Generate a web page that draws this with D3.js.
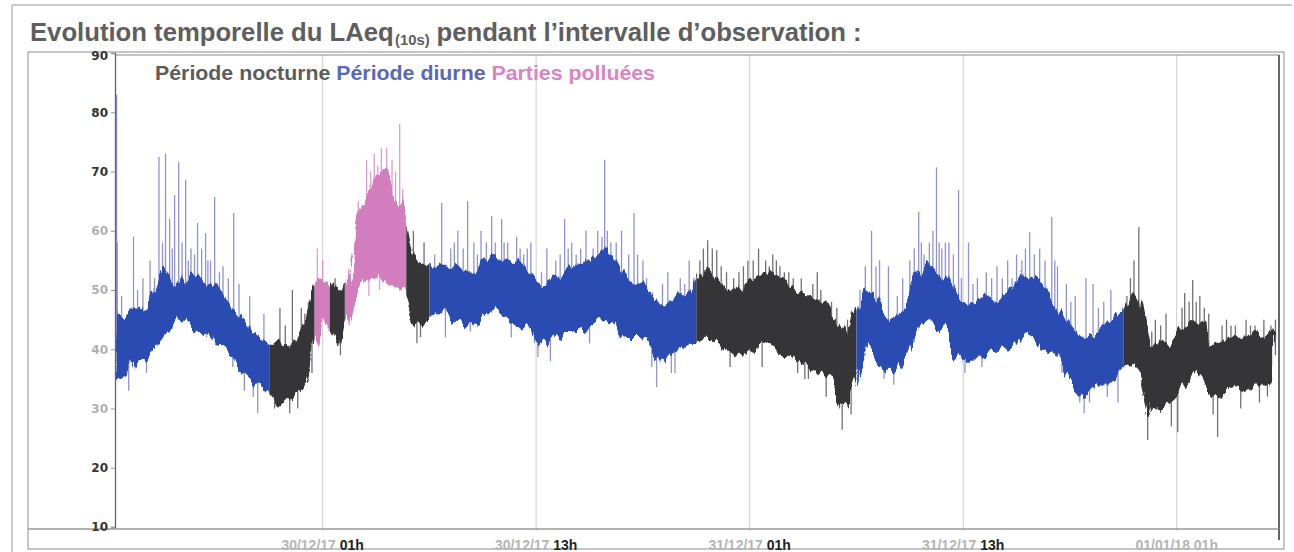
<!DOCTYPE html>
<html>
<head>
<meta charset="utf-8">
<script src="https://cdn.jsdelivr.net/npm/d3@7"></script>
<style>
  html, body { margin: 0; padding: 0; background: #fff; }
  svg { display: block; }
</style>
</head>
<body>
<svg id="chart" width="1294" height="552"></svg>
<script>
// ---- data -------------------------------------------------------------
// hours counted from 29/12/17 00:00
const titleMain = "Evolution temporelle du LAeq";
const titleSub = "(10s)";
const titleEnd = "pendant l’intervalle d’observation :";
const legendLabels = ["Période nocturne", "Période diurne", "Parties polluées"];

const yTicks = [10, 20, 30, 40, 50, 60, 70, 80, 90];
const xTickHours = [25, 37, 49, 61, 73];
const xTickDates = ["30/12/17", "30/12/17", "31/12/17", "31/12/17", "01/01/18"];
const xTickTimes = ["01h", "13h", "01h", "13h", "01h"];

const domainHours = [13.33, 78.75];
const binStart = 13.5;   // first sample, then every half hour
const binStep = 0.5;

// LAeq(10s) envelope per half hour: lower and upper edge of the dense band (dB)
const bandLow = [
  36, 35, 39, 38, 40, 42, 44, 45, 44, 43,
  43, 41, 40, 38, 36, 35, 33, 33, 31, 31,
  33, 34, 40, 46, 43, 41, 47, 50, 52, 53,
  52, 51, 50, 45, 44, 45, 46, 46, 45, 44,
  44, 46, 47, 46, 45, 44, 44, 42, 40, 42,
  43, 43, 43, 44, 45, 45, 44, 42, 42, 42,
  40, 38, 39, 40, 41, 41, 42, 42, 40, 39,
  39, 40, 41, 41, 40, 39, 39, 38, 37, 36,
  35, 32, 30, 36, 41, 39, 37, 36, 37, 41,
  44, 45, 44, 43, 40, 38, 38, 39, 40, 40,
  40, 41, 43, 42, 40, 40, 38, 35, 33, 32,
  34, 34, 34, 37, 38, 36, 29, 30, 31, 32,
  34, 36, 35, 33, 32, 33, 34, 33, 34, 34,
  35
];
const bandHigh = [
  46, 45, 47, 46, 50, 54, 52, 50, 53, 52,
  51, 50, 49, 47, 45, 43, 42, 41, 41, 40,
  42, 44, 50, 53, 50, 49, 54, 62, 66, 70,
  70, 68, 64, 56, 54, 53, 54, 53, 54, 54,
  53, 55, 56, 55, 55, 55, 53, 51, 50, 52,
  53, 54, 54, 55, 56, 57, 55, 52, 51, 51,
  49, 48, 48, 49, 49, 50, 54, 53, 50, 49,
  50, 51, 52, 53, 52, 51, 50, 49, 49, 48,
  47, 44, 42, 48, 51, 49, 46, 45, 46, 50,
  53, 54, 53, 52, 49, 47, 47, 48, 49, 48,
  49, 51, 53, 52, 50, 48, 46, 44, 42, 42,
  43, 44, 45, 47, 50, 48, 40, 41, 41, 42,
  44, 45, 44, 41, 41, 42, 42, 42, 43, 42,
  43
];

// isolated peaks and dips leaving the band: [hour, dB]
const spikes = [
  [13.42, 83], [13.45, 58], [13.7, 49], [14.1, 33], [14.37, 59], [14.6, 50], [14.9, 52],
  [15.1, 36], [15.3, 55], [15.55, 52], [15.8, 72.5], [16.0, 58],
  [16.17, 73], [16.4, 62], [16.55, 57], [16.68, 66], [16.91, 71.6], [17.1, 58], [17.3, 68.6],
  [17.45, 55], [17.6, 57], [17.8, 56], [17.97, 61.3], [18.2, 57], [18.42, 59.6], [18.55, 55],
  [18.7, 55], [18.93, 65.7], [19.2, 53], [19.4, 54], [19.7, 52], [20.0, 63], [19.95, 37],
  [20.3, 51], [20.6, 33], [20.9, 49], [21.1, 32], [21.35, 29.2], [21.7, 46],
  [22.3, 30], [22.6, 47], [22.9, 44], [23.15, 29.2], [23.3, 50], [23.6, 30], [23.8, 47],
  [24.0, 46], [24.2, 48], [24.4, 36],
  [24.7, 57], [25.0, 55], [25.7, 52], [26.0, 39], [26.5, 44], [26.8, 58], [27.0, 65], [27.2, 64],
  [27.47, 72], [27.7, 70], [27.9, 73], [28.1, 71], [28.3, 74], [28.45, 69], [28.6, 74],
  [28.75, 68], [28.9, 72], [29.1, 70], [29.33, 78], [29.5, 67], [28.2, 50], [27.6, 49],
  [30.1, 60], [30.3, 41], [30.5, 42], [30.7, 58], [30.9, 53],
  [31.3, 56], [31.69, 64.7], [31.9, 42], [32.2, 57], [32.4, 58], [32.6, 60], [32.9, 57],
  [33.15, 65], [33.3, 43], [33.5, 58], [33.7, 56], [33.9, 60], [34.2, 58], [34.5, 62.5],
  [34.7, 58], [35.06, 62], [35.2, 58], [35.4, 58], [35.6, 42], [35.9, 59], [36.1, 57], [36.3, 56],
  [36.5, 57], [36.7, 58], [36.9, 41], [37.1, 38.7], [37.3, 53], [37.6, 57], [37.8, 38],
  [38.1, 55], [38.35, 56], [38.6, 62], [38.8, 57], [39.0, 58], [39.25, 56], [39.5, 57],
  [39.8, 60], [40.0, 41], [40.2, 57], [40.46, 60], [40.7, 59], [40.85, 72], [41.0, 60],
  [41.2, 58], [41.5, 58], [41.8, 60], [42.0, 42], [42.2, 56], [42.5, 63], [42.7, 56],
  [43.0, 55], [43.2, 52], [43.5, 37], [43.77, 33.6], [44.1, 51], [44.4, 53], [44.6, 36],
  [44.8, 36], [45.1, 52], [45.35, 51], [45.6, 55], [45.85, 52],
  [46.2, 55], [46.4, 57], [46.64, 58.4], [46.9, 57], [47.15, 56.7], [47.4, 54], [47.7, 53],
  [47.9, 37], [48.1, 52], [48.4, 53], [48.65, 54], [48.9, 55], [49.2, 55], [49.5, 57],
  [49.7, 37], [49.9, 55], [50.1, 54], [50.3, 56], [50.5, 55], [50.7, 54], [50.95, 53],
  [51.2, 53], [51.45, 52], [51.7, 36], [51.9, 52], [52.1, 35], [52.3, 35], [52.55, 51],
  [52.8, 53], [53.0, 50], [53.3, 32], [53.6, 48], [53.9, 47], [54.05, 30], [54.2, 26.4],
  [54.5, 45], [54.7, 29],
  [55.2, 50], [55.5, 54], [55.85, 60], [56.1, 54], [56.3, 55], [56.55, 35], [56.8, 54],
  [57.1, 34], [57.3, 49], [57.6, 52], [58.0, 55], [58.25, 57], [58.5, 63.2], [58.65, 58],
  [58.8, 56], [59.1, 58], [59.3, 60], [59.5, 70.7], [59.65, 58], [59.8, 57], [60.0, 58],
  [60.2, 58], [60.45, 56], [60.74, 66.9], [60.9, 52], [61.1, 36], [61.3, 58], [61.55, 51],
  [61.8, 52], [62.05, 37], [62.3, 53], [62.6, 52], [62.9, 54], [63.2, 52], [63.5, 55],
  [63.75, 52], [64.0, 56], [64.3, 55], [64.5, 57], [64.74, 59.8], [65.0, 56], [65.3, 57],
  [65.6, 55], [65.98, 62.3], [66.15, 55], [66.3, 54], [66.55, 36], [66.8, 51], [67.05, 48],
  [67.3, 49], [67.55, 31], [67.8, 29.2], [67.9, 52], [68.1, 31], [68.3, 51], [68.6, 47],
  [68.9, 48], [69.1, 32], [69.3, 50], [69.5, 46], [69.7, 31],
  [70.2, 49], [70.4, 52], [70.6, 55], [70.87, 60.6], [71.1, 47], [71.37, 24.7], [71.6, 43],
  [71.8, 45], [72.1, 44], [72.4, 46], [72.7, 27], [73.06, 26], [73.3, 47], [73.45, 49.5],
  [73.7, 48], [73.9, 51.7], [74.1, 48], [74.3, 49], [74.55, 47], [74.8, 46], [75.05, 29],
  [75.3, 25.2], [75.55, 44], [75.8, 45], [76.05, 44], [76.3, 44], [76.6, 30], [76.9, 45],
  [77.15, 44], [77.4, 44], [77.65, 31], [77.9, 45], [78.1, 32], [78.3, 44], [78.55, 45]
];

// measurement periods: boundaries (hours) and the kind of each interval
const periodBounds = [13.33, 22, 24.55, 25.4, 26.25, 29.7, 31, 46, 55, 70, 78.75];
const periodKinds = ["diurne", "nocturne", "polluee", "nocturne", "polluee", "nocturne",
                     "diurne", "nocturne", "diurne", "nocturne"];

// ---- drawing ------------------------------------------------------------
const origin = new Date(2017, 11, 29, 0, 0);
const toDate = h => new Date(origin.getTime() + h * 3600e3);

const band = bandLow.map((lo, i) => ({ t: toDate(binStart + i * binStep), lo, hi: bandHigh[i] }));

const colors = {
  nocturne: { band: "#363638", spike: "#58585c" },
  diurne:   { band: "#2b4cb2", spike: "#7c80cc" },
  polluee:  { band: "#d27dbd", spike: "#d98cc6" }
};
const legendColors = ["#5c5c5c", "#5a68b8", "#d985c4"];

const svg = d3.select("#chart");
const margin = { left: 115, right: 1279, top: 55, bottom: 527 };

const x = d3.scaleTime().domain(domainHours.map(toDate)).range([margin.left, margin.right]);
const y = d3.scaleLinear().domain([10, 90]).range([margin.bottom, 53]);

// page frame and chart frame
svg.append("line").attr("x1", 12).attr("x2", 1292).attr("y1", 5).attr("y2", 5)
  .attr("stroke", "#bbb").attr("stroke-width", 1.5);
svg.append("line").attr("x1", 12).attr("x2", 12).attr("y1", 5).attr("y2", 552)
  .attr("stroke", "#bbb").attr("stroke-width", 1.5);
svg.append("rect").attr("x", 28).attr("y", 52).attr("width", 1256).attr("height", 497)
  .attr("fill", "none").attr("stroke", "#a0a0a0").attr("stroke-width", 1.2);

// title: main part, subscript and end as separate runs, then fitted to width
const titleG = svg.append("g");
const titleFont = "'Liberation Sans Narrow', 'Liberation Sans', Arial, sans-serif";
const t1 = titleG.append("text").attr("x", 0).attr("y", 41)
  .attr("font-family", titleFont).attr("font-weight", "bold").attr("font-size", 26)
  .attr("fill", "#5e5e5e").text(titleMain);
const w1 = t1.node().getComputedTextLength();
const t2 = titleG.append("text").attr("x", w1 + 1).attr("y", 45)
  .attr("font-family", titleFont).attr("font-weight", "bold").attr("font-size", 15)
  .attr("fill", "#5e5e5e").text(titleSub);
const w2 = t2.node().getComputedTextLength();
const t3 = titleG.append("text").attr("x", w1 + w2 + 8).attr("y", 41)
  .attr("font-family", titleFont).attr("font-weight", "bold").attr("font-size", 26)
  .attr("fill", "#5e5e5e").text(titleEnd);
const wTot = w1 + w2 + 8 + t3.node().getComputedTextLength();
titleG.attr("transform", `translate(30,0) scale(${832 / wTot},1)`);

// vertical grid lines at the labelled instants
svg.append("g").selectAll("line").data(xTickHours).join("line")
  .attr("x1", d => x(toDate(d))).attr("x2", d => x(toDate(d)))
  .attr("y1", margin.top).attr("y2", margin.bottom + 4)
  .attr("stroke", "#d4d4d4").attr("stroke-width", 1.2);

// clip paths, one per period; ragged-edge filter for the dense band
const defs = svg.append("defs");
periodKinds.forEach((k, i) => {
  defs.append("clipPath").attr("id", "p" + i)
    .append("rect")
    .attr("x", x(toDate(periodBounds[i])))
    .attr("width", x(toDate(periodBounds[i + 1])) - x(toDate(periodBounds[i])))
    .attr("y", 0).attr("height", 552);
});
const rough = defs.append("filter").attr("id", "rough")
  .attr("x", "-2%").attr("y", "-20%").attr("width", "104%").attr("height", "140%");
rough.append("feTurbulence").attr("type", "fractalNoise")
  .attr("baseFrequency", "0.12 0.012").attr("numOctaves", 4).attr("seed", 7).attr("result", "n");
rough.append("feDisplacementMap").attr("in", "SourceGraphic").attr("in2", "n")
  .attr("scale", 18).attr("xChannelSelector", "B").attr("yChannelSelector", "G");

const area = d3.area().x(d => x(d.t)).y0(d => y(d.lo)).y1(d => y(d.hi)).curve(d3.curveLinear);
const bandMid = h => {
  const i = Math.max(0, Math.min(band.length - 1, Math.round((h - binStart) / binStep)));
  return (band[i].lo + band[i].hi) / 2;
};
const kindAt = h => {
  for (let i = 0; i < periodKinds.length; i++) {
    if (h >= periodBounds[i] && h < periodBounds[i + 1]) return periodKinds[i];
  }
  return periodKinds[periodKinds.length - 1];
};

const plot = svg.append("g");
// spikes behind the band
plot.append("g").selectAll("line").data(spikes).join("line")
  .attr("x1", d => x(toDate(d[0]))).attr("x2", d => x(toDate(d[0])))
  .attr("y1", d => y(bandMid(d[0]))).attr("y2", d => y(d[1]))
  .attr("stroke", d => colors[kindAt(d[0])].spike)
  .attr("stroke-width", 1.3).attr("opacity", 0.85);

periodKinds.forEach((k, i) => {
  plot.append("g").attr("clip-path", `url(#p${i})`)
    .append("path").datum(band)
    .attr("filter", "url(#rough)")
    .attr("d", area)
    .attr("fill", colors[k].band)
    .attr("stroke", colors[k].band).attr("stroke-width", 1.2).attr("stroke-linejoin", "round");
});

// plot borders
svg.append("line").attr("x1", margin.left).attr("x2", margin.right).attr("y1", 55).attr("y2", 55)
  .attr("stroke", "#888").attr("stroke-width", 1.2);
svg.append("line").attr("x1", margin.right).attr("x2", margin.right).attr("y1", 55).attr("y2", 540)
  .attr("stroke", "#666").attr("stroke-width", 2);
svg.append("line").attr("x1", 28).attr("x2", margin.right).attr("y1", 529).attr("y2", 529)
  .attr("stroke", "#999").attr("stroke-width", 1.5);

// y axis
const faded = new Set([30, 40, 50, 60]);
const yAxis = svg.append("g").attr("transform", `translate(${margin.left},0)`)
  .call(d3.axisLeft(y).tickValues(yTicks).tickSize(4).tickPadding(3).tickFormat(d3.format("d")));
yAxis.select(".domain").attr("stroke", "#666").attr("stroke-width", 1.3);
yAxis.selectAll(".tick line").attr("stroke", "#999");
yAxis.selectAll(".tick text")
  .attr("font-family", "'DejaVu Sans', sans-serif").attr("font-weight", "bold").attr("font-size", 12)
  .attr("fill", d => faded.has(d) ? "#b0b0b0" : "#333");
yAxis.selectAll(".tick").filter(d => d === 90).select("text").attr("dy", "0.5em");

// x labels
const xl = svg.append("g").selectAll("text").data(xTickHours).join("text")
  .attr("x", d => x(toDate(d))).attr("y", 550)
  .attr("text-anchor", "middle")
  .attr("font-family", "'Liberation Sans', Arial, sans-serif").attr("font-weight", "bold")
  .attr("font-size", 14);
xl.append("tspan").attr("fill", "#b4b4b4").text((d, i) => xTickDates[i] + " ");
xl.append("tspan").attr("fill", (d, i) => i === 4 ? "#b4b4b4" : "#222").text((d, i) => xTickTimes[i]);

// legend
const legend = svg.append("text").attr("x", 155).attr("y", 80)
  .attr("font-family", "'Liberation Sans Narrow', 'Liberation Sans', Arial, sans-serif")
  .attr("font-weight", "bold").attr("font-size", 21)
  .attr("textLength", 500).attr("lengthAdjust", "spacingAndGlyphs");
legendLabels.forEach((t, i) => {
  legend.append("tspan").attr("fill", legendColors[i]).text(t + (i < 2 ? " " : ""));
});
</script>
</body>
</html>
